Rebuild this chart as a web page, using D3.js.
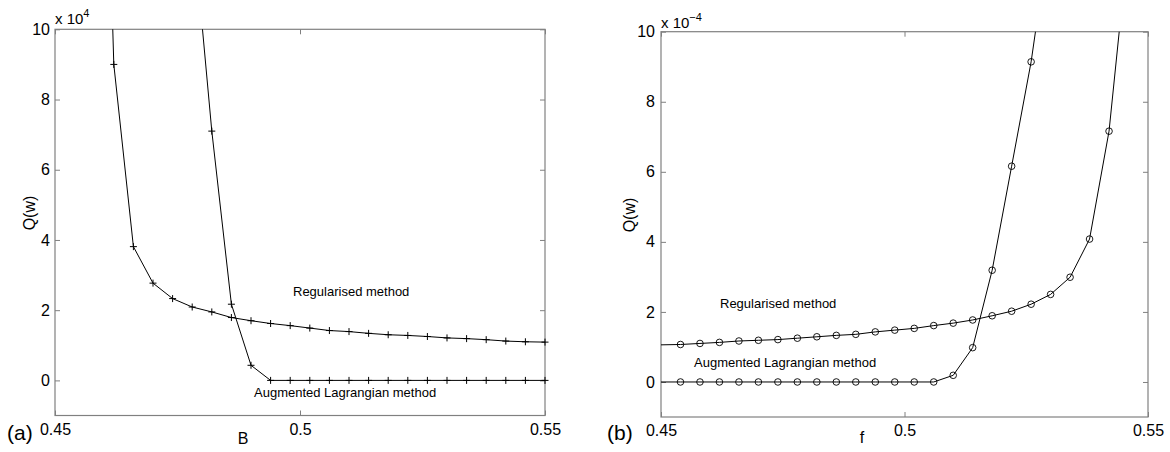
<!DOCTYPE html>
<html>
<head>
<meta charset="utf-8">
<script src="https://cdn.jsdelivr.net/npm/d3@7"></script>
<style>
  html, body { margin: 0; padding: 0; background: #fff; }
  svg { display: block; font-family: "Liberation Sans", Arial, Helvetica, sans-serif; }
</style>
</head>
<body>
<svg id="chart" width="1170" height="452"></svg>
<script>
// Sample grid shared by both panels (B in panel a, f in panel b)
const gridValues = [0.450, 0.454, 0.458, 0.462, 0.466, 0.470, 0.474, 0.478, 0.482, 0.486,
                    0.490, 0.494, 0.498, 0.502, 0.506, 0.510, 0.514, 0.518, 0.522, 0.526,
                    0.530, 0.534, 0.538, 0.542, 0.546, 0.550];

// Panel (a): Q(w) in units of 1e4 (null = no sample shown)
const regularisedB = [null, null, 28.0, 9.00, 3.81, 2.77, 2.33, 2.09, 1.95, 1.79,
                      1.70, 1.62, 1.56, 1.49, 1.42, 1.39, 1.34, 1.30, 1.28, 1.25,
                      1.21, 1.19, 1.16, 1.12, 1.10, 1.09];
const augmentedB   = [null, null, null, null, null, null, null, 13.2, 7.10, 2.17,
                      0.43, 0, 0, 0, 0, 0, 0, 0, 0, 0,
                      0, 0, 0, 0, 0, 0];

// Panel (b): Q(w) in units of 1e-4
const regularisedF = [1.06, 1.07, 1.10, 1.13, 1.17, 1.19, 1.21, 1.25, 1.29, 1.33,
                      1.36, 1.43, 1.48, 1.53, 1.61, 1.68, 1.77, 1.89, 2.02, 2.22,
                      2.50, 2.99, 4.08, 7.16, 12.6, null];
const augmentedF   = [0, 0, 0, 0, 0, 0, 0, 0, 0, 0,
                      0, 0, 0, 0, 0, 0.19, 0.98, 3.19, 6.16, 9.14,
                      13.0, null, null, null, null, null];

const xTickValues = [0.45, 0.5, 0.55];
const yTickValues = [0, 2, 4, 6, 8, 10];
const xDomain = [0.45, 0.55];
const yDomain = [-1, 10];

const svg = d3.select("#chart");

function drawPanel(cfg) {
  const x = d3.scaleLinear().domain(xDomain).range([cfg.left, cfg.right]);
  const y = d3.scaleLinear().domain(yDomain).range([cfg.bottom, cfg.top]);
  const g = svg.append("g");
  const axisColor = "#808080";

  // clip for the connecting lines
  g.append("clipPath").attr("id", cfg.id + "-clip")
    .append("rect")
    .attr("x", cfg.left).attr("y", cfg.top)
    .attr("width", cfg.right - cfg.left).attr("height", cfg.bottom - cfg.top);

  // axes (ticks point inward on all four sides)
  const styleAxis = sel => {
    sel.select(".domain").remove();
    sel.selectAll(".tick line").attr("stroke", axisColor);
    sel.selectAll(".tick text").attr("fill", "#000").style("font-size", "16px")
      .style("font-family", "'Liberation Sans', Arial, sans-serif");
  };
  g.append("g").attr("transform", `translate(0,${cfg.bottom})`)
    .call(d3.axisBottom(x).tickValues(xTickValues).tickFormat(d => String(d))
      .tickSizeInner(-5).tickSizeOuter(0).tickPadding(8))
    .call(styleAxis);
  g.append("g").attr("transform", `translate(0,${cfg.top})`)
    .call(d3.axisTop(x).tickValues(xTickValues).tickFormat("")
      .tickSizeInner(-5).tickSizeOuter(0))
    .call(styleAxis);
  g.append("g").attr("transform", `translate(${cfg.left},0)`)
    .call(d3.axisLeft(y).tickValues(yTickValues).tickFormat(d => String(d))
      .tickSizeInner(-5).tickSizeOuter(0).tickPadding(cfg.yPad))
    .call(styleAxis);
  g.append("g").attr("transform", `translate(${cfg.right},0)`)
    .call(d3.axisRight(y).tickValues(yTickValues).tickFormat("")
      .tickSizeInner(-5).tickSizeOuter(0))
    .call(styleAxis);

  // box
  g.append("rect")
    .attr("x", cfg.left).attr("y", cfg.top)
    .attr("width", cfg.right - cfg.left).attr("height", cfg.bottom - cfg.top)
    .attr("fill", "none").attr("stroke", axisColor).attr("stroke-width", 1.2);

  const line = d3.line()
    .defined(d => d[1] !== null)
    .x(d => x(d[0])).y(d => y(d[1]));

  cfg.series.forEach(values => {
    const pts = gridValues.map((v, i) => [v, values[i]]);
    g.append("path")
      .attr("clip-path", `url(#${cfg.id}-clip)`)
      .attr("d", line(pts))
      .attr("fill", "none").attr("stroke", "#000").attr("stroke-width", 1);

    // markers for samples inside the plotting area
    const shown = pts.filter(d => d[1] !== null && d[0] > xDomain[0] &&
                                  d[1] >= yDomain[0] && d[1] <= yDomain[1]);
    if (cfg.marker === "plus") {
      const s = 3.5;
      g.append("g").selectAll("path").data(shown).join("path")
        .attr("d", d => {
          const cx = x(d[0]), cy = y(d[1]);
          return `M${cx - s},${cy}H${cx + s}M${cx},${cy - s}V${cy + s}`;
        })
        .attr("stroke", "#000").attr("stroke-width", 1).attr("fill", "none");
    } else {
      g.append("g").selectAll("circle").data(shown).join("circle")
        .attr("cx", d => x(d[0])).attr("cy", d => y(d[1])).attr("r", 3.3)
        .attr("fill", "none").attr("stroke", "#000").attr("stroke-width", 0.9);
    }
  });

  // exponent over the y axis
  const ex = g.append("text").attr("x", cfg.left).attr("y", cfg.expY)
    .style("font-size", "15px").attr("fill", "#000");
  ex.append("tspan").text("x 10");
  ex.append("tspan").attr("dy", -7).style("font-size", "11px").text(cfg.exponent);

  // axis labels
  g.append("text")
    .attr("transform", `translate(${cfg.yLabelX},${cfg.yLabelY}) rotate(-90)`)
    .attr("text-anchor", "middle").attr("dy", "0.35em")
    .style("font-size", "16px").text("Q(w)");
  g.append("text").attr("x", cfg.xLabelX).attr("y", cfg.xLabelY)
    .attr("text-anchor", "middle").style("font-size", "16px").text(cfg.xLabel);
  g.append("text").attr("x", cfg.panelX).attr("y", 440)
    .style("font-size", "21px").text(cfg.panel);

  // curve annotations
  cfg.notes.forEach(n => {
    g.append("text").attr("x", n.x).attr("y", n.y)
      .style("font-size", "13px").text(n.text);
  });
}

drawPanel({
  id: "pa", left: 55, right: 545, top: 29.3, bottom: 415.5, yPad: 5,
  series: [regularisedB, augmentedB], marker: "plus",
  exponent: "4", expY: 24,
  yLabelX: 29, yLabelY: 213, xLabel: "B", xLabelX: 243, xLabelY: 444,
  panel: "(a)", panelX: 7,
  notes: [
    { text: "Regularised method", x: 293, y: 296 },
    { text: "Augmented Lagrangian method", x: 254, y: 396.5 }
  ]
});

drawPanel({
  id: "pb", left: 661, right: 1148, top: 31.7, bottom: 417, yPad: 6,
  series: [regularisedF, augmentedF], marker: "circle",
  exponent: "\u22124", expY: 27.7,
  yLabelX: 629, yLabelY: 215, xLabel: "f", xLabelX: 862, xLabelY: 443,
  panel: "(b)", panelX: 607,
  notes: [
    { text: "Regularised method", x: 720, y: 307.5 },
    { text: "Augmented Lagrangian method", x: 694, y: 367 }
  ]
});
</script>
</body>
</html>
